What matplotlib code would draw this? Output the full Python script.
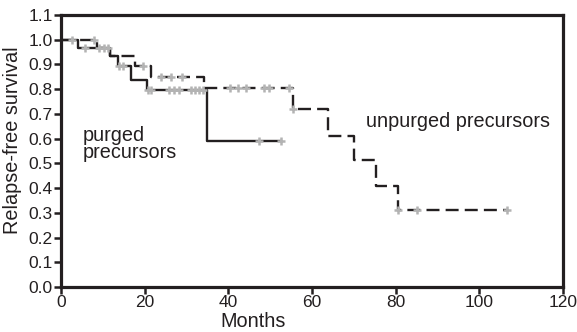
import numpy as np
import matplotlib.pyplot as plt

plt.rcParams['font.family'] = ['Liberation Sans', 'DejaVu Sans']

# purged precursors (solid line): event times and survival after each step
purged_t = [0, 4.0, 11.8, 13.6, 16.8, 20.6, 35.0, 52.5]
purged_s = [1.0, 0.968, 0.935, 0.892, 0.838, 0.795, 0.592, 0.592]
purged_cens = [2.6, 5.8, 9.2, 10.2, 11.2, 13.9, 14.8, 20.8, 21.6, 25.8, 27.0, 28.2,
               31.0, 32.0, 33.0, 34.0, 47.4, 52.5]

# unpurged precursors (dashed line)
unpurged_t = [0, 8.6, 11.8, 17.6, 21.5, 34.2, 55.4, 63.9, 70.1, 75.2, 80.5, 106.7]
unpurged_s = [1.0, 0.966, 0.935, 0.892, 0.849, 0.804, 0.72, 0.611, 0.514, 0.41, 0.312, 0.312]
unpurged_cens = [8.0, 19.6, 23.8, 26.2, 29.0, 40.4, 42.4, 44.2, 48.6, 49.8, 54.4,
                 55.4, 80.5, 85.1, 106.7]

line_col = '#231f20'
cens_col = '#b3b3b3'


def surv_at(times, surv, t):
    idx = np.searchsorted(times, t, side='right') - 1
    return np.array(surv)[idx]


fig = plt.figure(figsize=(5.77, 3.32), dpi=100)
ax = fig.add_axes([0.1057, 0.1355, 0.87, 0.8193])

ax.step(purged_t, purged_s, where='post', color=line_col, lw=1.7, zorder=2)
ax.step(unpurged_t, unpurged_s, where='post', color=line_col, lw=1.7,
        linestyle=(0, (5.5, 2.6)), zorder=2)

ax.plot(purged_cens, surv_at(purged_t, purged_s, purged_cens), '+',
        color=cens_col, ms=5.5, mew=1.8, zorder=3)
ax.plot(unpurged_cens, surv_at(unpurged_t, unpurged_s, unpurged_cens), '+',
        color=cens_col, ms=5.5, mew=1.8, zorder=3)

ax.text(5.3, 0.592, 'purged', fontsize=14.3, color=line_col,
        ha='left', va='baseline')
ax.text(5.3, 0.521, 'precursors', fontsize=14.3, color=line_col,
        ha='left', va='baseline')
ax.text(73, 0.669, 'unpurged precursors', fontsize=14.3, color=line_col,
        ha='left', va='center')

ax.set_xlim(0, 120)
ax.set_ylim(0, 1.1)
ax.set_xticks(range(0, 121, 20))
ax.set_yticks(np.arange(0, 1.11, 0.1))
ax.set_yticklabels([f'{v:.1f}' for v in np.arange(0, 1.11, 0.1)])
ax.tick_params(direction='out', length=5, width=1.8, labelsize=12.5,
               colors=line_col, pad=1)
for sp in ax.spines.values():
    sp.set_linewidth(2.3)
    sp.set_color(line_col)

ax.set_xlabel('Months', fontsize=14.3, color=line_col, labelpad=0)
ax.xaxis.set_label_coords(0.382, -0.093)
ax.set_ylabel('Relapse-free survival', fontsize=14.3, color=line_col)
ax.yaxis.set_label_coords(-0.078, 0.54)

fig.savefig('out.png', dpi=100)
